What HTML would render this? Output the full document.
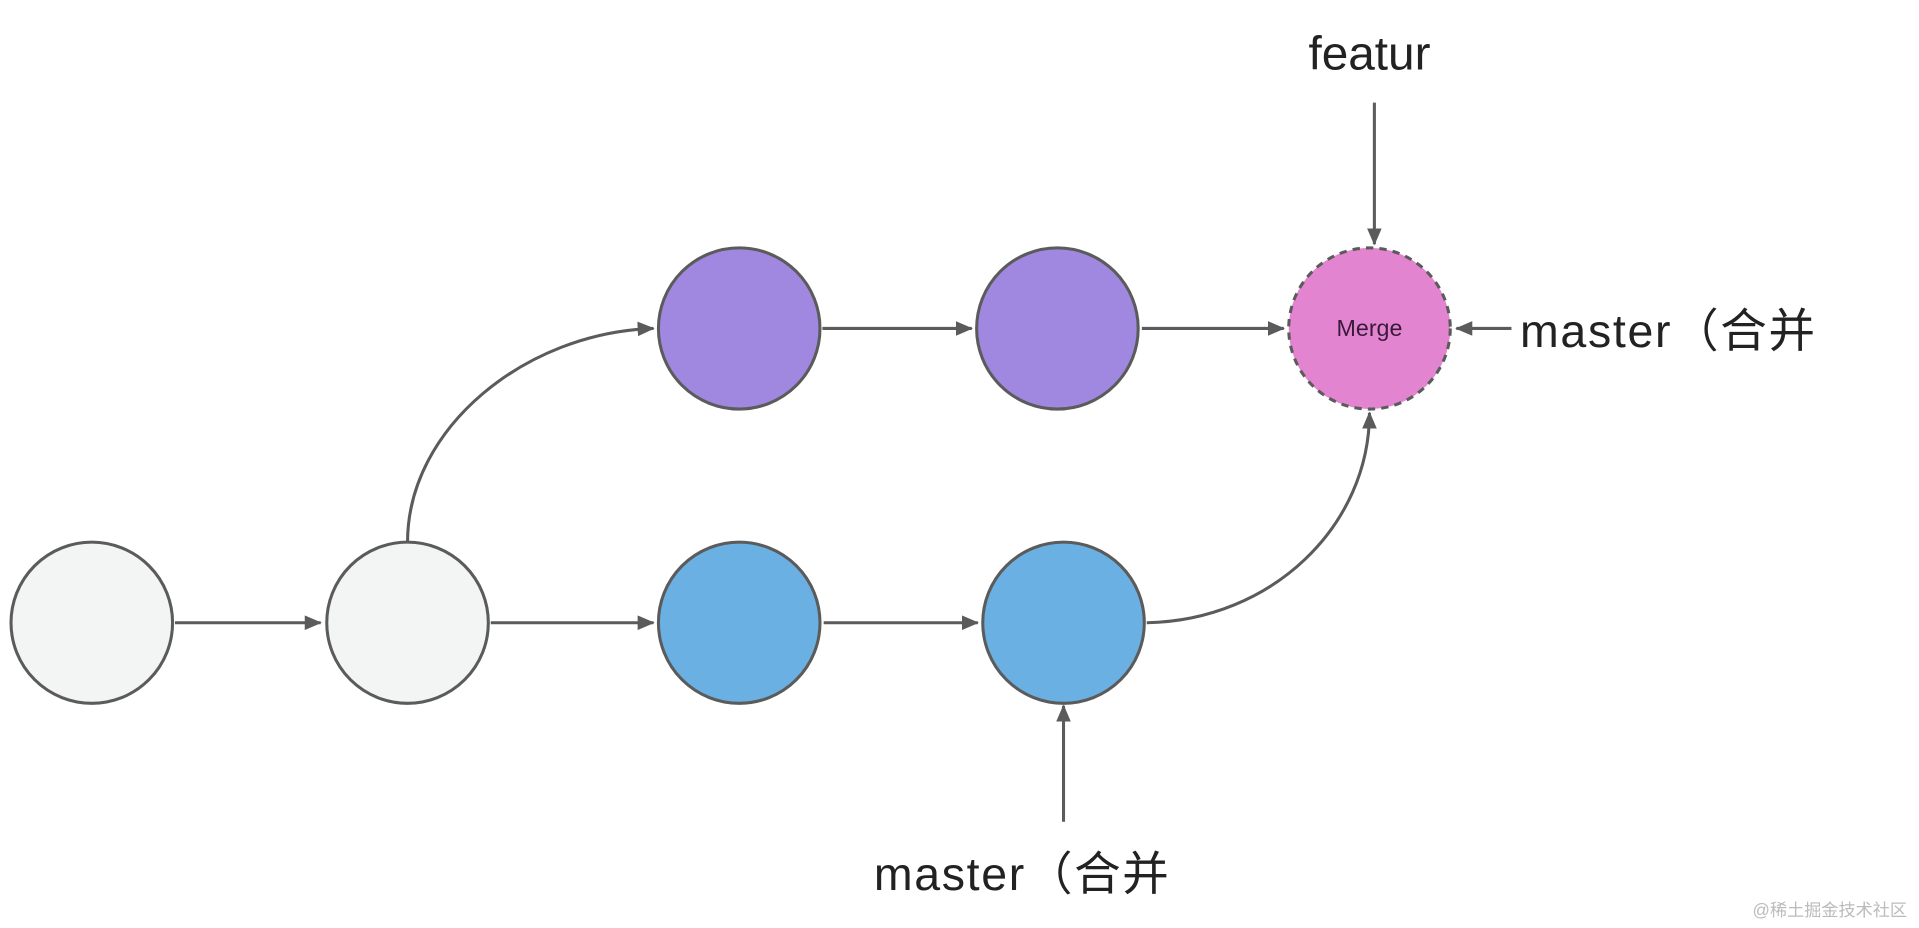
<!DOCTYPE html>
<html><head><meta charset="utf-8"><style>html,body{margin:0;padding:0;background:#fff;overflow:hidden}svg{display:block}</style></head>
<body>
<svg width="1919" height="928" viewBox="0 0 1568 760" preserveAspectRatio="none" xmlns="http://www.w3.org/2000/svg">
<defs><marker id="b" markerWidth="14" markerHeight="12" refX="13" refY="6" orient="auto" markerUnits="userSpaceOnUse"><path d="M0,0 L14,6 L0,12 z" fill="#5b5b5b"/></marker></defs>
<g stroke="#5b5b5b" stroke-width="2.5" fill="none">
<line x1="143" y1="510" x2="262" y2="510" marker-end="url(#b)"/>
<line x1="401" y1="510" x2="534" y2="510" marker-end="url(#b)"/>
<line x1="673" y1="510" x2="799" y2="510" marker-end="url(#b)"/>
<line x1="672" y1="269" x2="794" y2="269" marker-end="url(#b)"/>
<line x1="933" y1="269" x2="1049" y2="269" marker-end="url(#b)"/>
<path d="M333,444 C333,350 430,272 534,269" marker-end="url(#b)"/>
<path d="M937,510 C1040,508 1119,430 1119,338" marker-end="url(#b)"/>
<line x1="1123" y1="84" x2="1123" y2="200" marker-end="url(#b)"/>
<line x1="1235" y1="269" x2="1190" y2="269" marker-end="url(#b)"/>
<line x1="869" y1="673" x2="869" y2="578" marker-end="url(#b)"/>
</g>
<g stroke="#5b5b5b" stroke-width="2.5">
<circle cx="75" cy="510" r="66" fill="#f3f5f4"/>
<circle cx="333" cy="510" r="66" fill="#f3f5f4"/>
<circle cx="604" cy="510" r="66" fill="#6ab0e2"/>
<circle cx="869" cy="510" r="66" fill="#6ab0e2"/>
<circle cx="604" cy="269" r="66" fill="#a087e0"/>
<circle cx="864" cy="269" r="66" fill="#a087e0"/>
<circle cx="1119" cy="269" r="66" fill="#e384d1" stroke-dasharray="6,5"/>
</g>
<g font-family="Liberation Sans, 'Noto Sans CJK SC', sans-serif" fill="#222">
<text x="1119" y="275" font-size="19" text-anchor="middle" fill="#3a1a3a">Merge</text>
<text x="1119" y="57" font-size="39" text-anchor="middle">featur</text>
<text x="1242" y="284" font-size="38" textLength="241" lengthAdjust="spacing">master（合并</text>
<text x="714" y="729" font-size="38" textLength="241" lengthAdjust="spacing">master（合并</text>
<text x="1432" y="750" font-size="14" fill="#bbb">@稀土掘金技术社区</text>
</g>
</svg>
</body></html>
